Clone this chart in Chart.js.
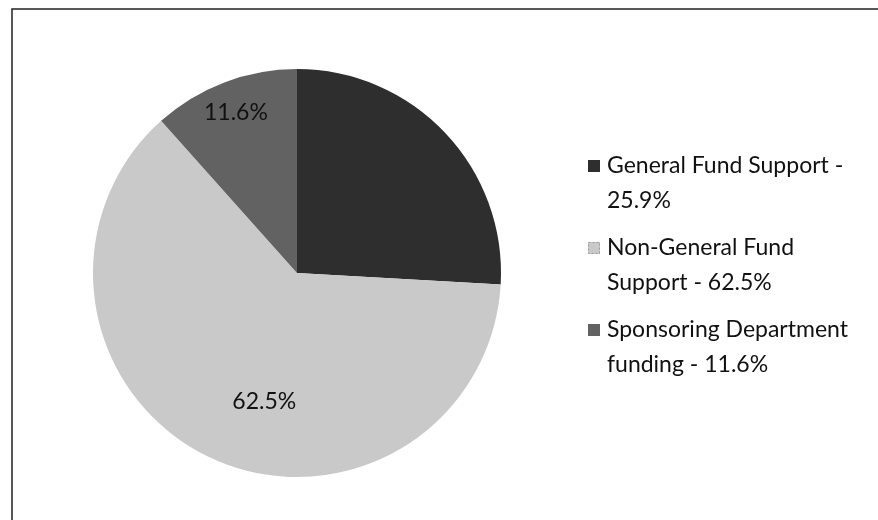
<!DOCTYPE html>
<html>
<head>
<meta charset="utf-8">
<script src="https://cdn.jsdelivr.net/npm/chart.js@4/dist/chart.umd.min.js"></script>
<style>
  html, body { margin: 0; padding: 0; background: #fff; }
  #wrap { width: 878px; height: 520px; position: relative; }
</style>
</head>
<body>
<div id="wrap"><canvas id="pieChart" width="878" height="520"></canvas></div>
<script>
// ---- data ----
const categories = ["General Fund Support", "Non-General Fund Support", "Sponsoring Department funding"];
const shares = [25.9, 62.5, 11.6];
// legend text as it wraps in the original
const legendLines = [
  ["General Fund Support -", "25.9%"],
  ["Non-General Fund", "Support - 62.5%"],
  ["Sponsoring Department", "funding - 11.6%"]
];
const sliceColors = ["#2e2e2e", "#c9c9c9", "#626262"];

const FONT = "23px Lato, 'Open Sans', sans-serif";

// frame around the chart (the scan cuts it off right and bottom)
const framePlugin = {
  id: "frame",
  beforeDraw(chart) {
    const c = chart.ctx;
    c.save();
    c.fillStyle = "#fff";
    c.fillRect(0, 0, chart.width, chart.height);
    c.strokeStyle = "#222";
    c.lineWidth = 1.5;
    c.beginPath();
    c.moveTo(12, chart.height);
    c.lineTo(12, 9);
    c.lineTo(chart.width, 9);
    c.stroke();
    c.restore();
  }
};

// percentage labels inside slices (the dark one is unreadable in the original)
const sliceLabels = {
  id: "sliceLabels",
  afterDatasetsDraw(chart) {
    const c = chart.ctx;
    const arcs = chart.getDatasetMeta(0).data;
    const place = [null, { f: 0.65, nudge: -0.2 }, { f: 0.84, nudge: 0 }];
    c.save();
    c.font = FONT;
    c.fillStyle = "#111";
    c.textAlign = "center";
    c.textBaseline = "middle";
    arcs.forEach((arc, i) => {
      if (!place[i]) return;
      const p = arc.getProps(["x", "y", "startAngle", "endAngle", "outerRadius"], true);
      const mid = (p.startAngle + p.endAngle) / 2 + place[i].nudge;
      const r = p.outerRadius * place[i].f;
      c.fillText(shares[i].toFixed(1) + "%", p.x + Math.cos(mid) * r, p.y + Math.sin(mid) * r);
    });
    c.restore();
  }
};

// legend on the right, two lines per entry
const sideLegend = {
  id: "sideLegend",
  afterDraw(chart) {
    const c = chart.ctx;
    const tops = [166, 248, 330];
    c.save();
    c.font = FONT;
    c.textBaseline = "middle";
    legendLines.forEach((lines, i) => {
      const y = tops[i];
      c.fillStyle = sliceColors[i];
      c.fillRect(588, y - 6, 12, 12);
      if (i === 1) {
        c.strokeStyle = "#999";
        c.setLineDash([2, 2]);
        c.lineWidth = 1;
        c.strokeRect(588.5, y - 5.5, 11, 11);
        c.setLineDash([]);
      }
      c.fillStyle = "#111";
      lines.forEach((t, k) => c.fillText(t, 607, y + k * 35));
    });
    c.restore();
  }
};

new Chart(document.getElementById("pieChart"), {
  type: "pie",
  data: {
    labels: categories,
    datasets: [{
      data: shares,
      backgroundColor: sliceColors,
      borderWidth: 0
    }]
  },
  options: {
    responsive: false,
    animation: false,
    layout: { padding: { left: 93, right: 377, top: 69, bottom: 43 } },
    plugins: {
      legend: { display: false },
      tooltip: { enabled: false }
    }
  },
  plugins: [framePlugin, sliceLabels, sideLegend]
});
</script>
</body>
</html>
